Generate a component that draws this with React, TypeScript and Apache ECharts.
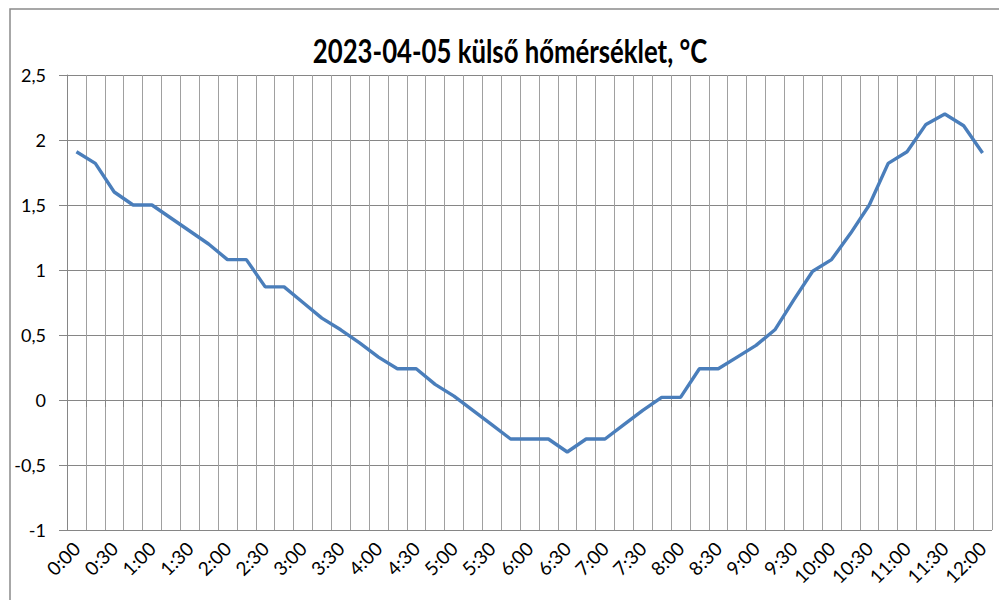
import React, { useEffect, useRef } from "react";
import * as echarts from "echarts";

const times: string[] = [
  "0:00", "0:15", "0:30", "0:45", "1:00", "1:15", "1:30", "1:45",
  "2:00", "2:15", "2:30", "2:45", "3:00", "3:15", "3:30", "3:45",
  "4:00", "4:15", "4:30", "4:45", "5:00", "5:15", "5:30", "5:45",
  "6:00", "6:15", "6:30", "6:45", "7:00", "7:15", "7:30", "7:45",
  "8:00", "8:15", "8:30", "8:45", "9:00", "9:15", "9:30", "9:45",
  "10:00", "10:15", "10:30", "10:45", "11:00", "11:15", "11:30", "11:45",
  "12:00",
];

const temperature: number[] = [
  1.91, 1.82, 1.6, 1.5, 1.5, 1.4, 1.3, 1.2,
  1.08, 1.08, 0.87, 0.87, 0.75, 0.63, 0.54, 0.44,
  0.33, 0.24, 0.24, 0.12, 0.03, -0.08, -0.19, -0.3,
  -0.3, -0.3, -0.4, -0.3, -0.3, -0.19, -0.08, 0.02,
  0.02, 0.24, 0.24, 0.33, 0.42, 0.54, 0.77, 0.99,
  1.08, 1.28, 1.5, 1.82, 1.91, 2.12, 2.2, 2.11,
  1.9,
];

const titleText = "2023-04-05 külső hőmérséklet, °C";
const yMin = -1;
const yMax = 2.5;
const yStep = 0.5;

export default function App() {
  const ref = useRef<HTMLDivElement>(null);

  useEffect(() => {
    if (!ref.current) return;
    const chart = echarts.init(ref.current, null, { renderer: "svg" });
    chart.setOption({
      animation: false,
      backgroundColor: "#ffffff",
      graphic: [
        {
          type: "rect",
          shape: { x: 10, y: 9, width: 1000, height: 620 },
          style: { fill: "none", stroke: "#8a8a8a", lineWidth: 1.5 },
          silent: true,
        },
        {
          type: "text",
          x: 510,
          y: 50,
          scaleX: 0.78,
          style: {
            text: titleText,
            font: "bold 33px Lato",
            fill: "#000000",
            align: "center",
            verticalAlign: "middle",
          },
        },
      ],
      grid: { left: 67, right: 7, top: 75, bottom: 70 },
      xAxis: {
        type: "category",
        data: times,
        boundaryGap: true,
        axisLine: { show: true, lineStyle: { color: "#868686", width: 1 } },
        axisTick: {
          show: true,
          interval: 0,
          length: 7,
          lineStyle: { color: "#868686" },
        },
        axisLabel: {
          interval: 1,
          rotate: 45,
          margin: 15,
          color: "#000000",
          fontFamily: "Lato",
          fontSize: 19,
        },
        splitLine: {
          show: true,
          interval: 0,
          lineStyle: { color: "#a0a0a0", width: 1 },
        },
      },
      yAxis: {
        type: "value",
        min: yMin,
        max: yMax,
        interval: yStep,
        axisLine: { show: true, lineStyle: { color: "#868686" } },
        axisTick: { show: true, length: 8, lineStyle: { color: "#868686" } },
        axisLabel: {
          margin: 21,
          color: "#000000",
          fontFamily: "Lato",
          fontSize: 18,
          formatter: (v: number) => String(v).replace(".", ","),
        },
        splitLine: { show: true, lineStyle: { color: "#868686", width: 1 } },
      },
      series: [
        {
          type: "line",
          data: temperature,
          showSymbol: false,
          symbol: "none",
          lineStyle: { color: "#4a7ebb", width: 3.4 },
          itemStyle: { color: "#4a7ebb" },
        },
      ],
    });
    return () => chart.dispose();
  }, []);

  return (
    <div
      ref={ref}
      style={{ position: "absolute", left: 0, top: 0, width: 999, height: 600 }}
    />
  );
}
